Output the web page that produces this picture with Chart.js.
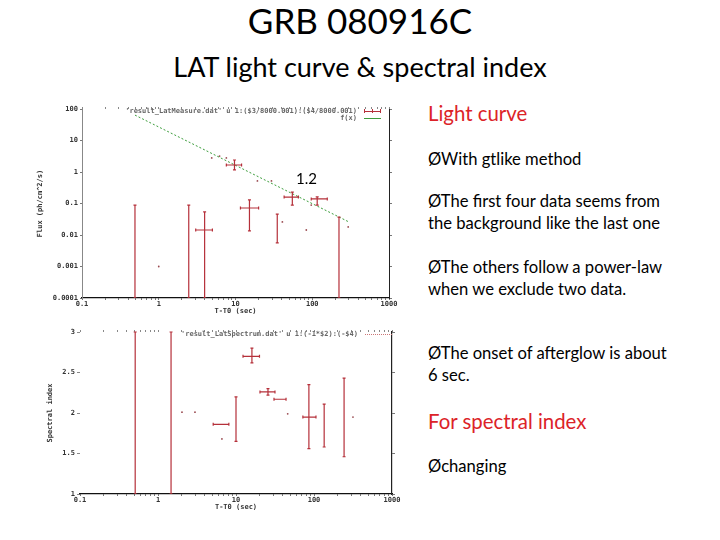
<!DOCTYPE html>
<html>
<head>
<meta charset="utf-8">
<script src="https://cdn.jsdelivr.net/npm/chart.js@4"></script>
<style>
  body { margin: 0; width: 720px; height: 540px; background: #fff; position: relative; overflow: hidden; font-family: Lato, "Open Sans", sans-serif; }
  .txt { position: absolute; white-space: nowrap; color: #000; }
  .bullet { font-size: 16.6px; line-height: 20px; left: 428px; }
  .red { color: #dc2328; font-size: 20.4px; line-height: 24px; left: 428px; }
  .wrap { position: absolute; left: 0; width: 410px; }
  .leg { position: absolute; font: bold 7px "DejaVu Sans Mono", monospace; color: #666; white-space: nowrap; text-align: right; line-height: 8px; }
  .sample { position: absolute; height: 0; }
</style>
</head>
<body>
<div class="txt" style="left:0;width:720px;text-align:center;top:-2px;font-size:35px;line-height:44px;">GRB 080916C</div>
<div class="txt" style="left:0;width:720px;text-align:center;top:51px;font-size:27px;line-height:32px;">LAT light curve &amp; spectral index</div>

<div class="txt red" style="top:101px;">Light curve</div>
<div class="txt bullet" style="top:149px;">ØWith gtlike method</div>
<div class="txt bullet" style="top:191px;">ØThe first four data seems from</div>
<div class="txt bullet" style="top:213px;">the background like the last one</div>
<div class="txt bullet" style="top:257px;">ØThe others follow a power-law</div>
<div class="txt bullet" style="top:279px;">when we exclude two data.</div>
<div class="txt bullet" style="top:343px;">ØThe onset of afterglow is about</div>
<div class="txt bullet" style="top:365px;">6 sec.</div>
<div class="txt red" style="top:409px;">For spectral index</div>
<div class="txt bullet" style="top:456px;">Øchanging</div>

<div class="wrap" style="top:95px;height:225px;"><canvas id="lcChart"></canvas></div>
<div class="wrap" style="top:320px;height:200px;"><canvas id="idxChart"></canvas></div>

<div class="txt" style="left:296px;top:168px;font-size:15px;line-height:20px;">1.2</div>

<div class="leg" style="left:120px;width:237px;top:107px;">'result_LatMeasure.dat' u 1:($3/8000.001):($4/8000.001)</div>
<div class="leg" style="left:120px;width:237px;top:114px;">f(x)</div>
<div class="sample" style="left:364px;width:17px;top:111px;border-top:1px solid #b5303a;"></div>
<div class="sample" style="left:364px;width:1px;height:4px;top:109px;background:#b5303a;"></div>
<div class="sample" style="left:372px;width:1px;height:4px;top:109px;background:#b5303a;"></div>
<div class="sample" style="left:380px;width:1px;height:4px;top:109px;background:#b5303a;"></div>
<div class="sample" style="left:364px;width:17px;top:118px;border-top:1px solid #3c9c3c;"></div>
<div class="leg" style="left:120px;width:238px;top:330px;">'result_LatSpectrum.dat' u 1:(-1*$2):(-$4)</div>
<div class="sample" style="left:365px;width:27px;top:334px;border-top:1px dotted #c77;"></div>

<script>
// ---- light curve (top panel) ----
const lcTime   = [0.49, 2.46, 3.96, 9.7, 15.2, 35, 55, 116, 223];
const lcTimeLo = [0.49, 2.46, 3.03, 7.6, 11.6, 35, 43, 97, 223];
const lcTimeHi = [0.49, 2.46, 5.0, 12.0, 20, 35, 66, 157, 223];
const lcFlux   = [0.003, 0.003, 0.0144, 1.67, 0.072, 0.017, 0.16, 0.14, 0.002];
const lcFluxLo = [0.0001, 0.0001, 0.0001, 1.16, 0.0135, 0.0056, 0.089, 0.089, 0.0001];
const lcFluxHi = [0.089, 0.089, 0.054, 2.4, 0.13, 0.046, 0.23, 0.163, 0.037];

// stray dots in the light curve panel
const lcDotTime = [1.0, 4.9, 6.2, 7.6, 19.3, 29.4, 40.8, 83.6, 97, 294];
const lcDotFlux = [0.001, 2.8, 3.2, 2.8, 0.52, 0.52, 0.026, 0.0144, 0.089, 0.018];

// power-law fit, end points
const fitTime = [0.49, 300];
const fitFlux = [64, 0.026];

// ---- spectral index (bottom panel) ----
const siTime   = [0.51, 1.47, 6.5, 10, 16, 25.7, 36.6, 86, 135, 243];
const siTimeLo = [0.51, 1.47, 5.1, 10, 12.3, 20.3, 30.7, 72, 135, 243];
const siTimeHi = [0.51, 1.47, 8.1, 10, 20, 31.6, 43.8, 106, 135, 243];
const siIndex   = [2, 2, 1.86, 1.92, 2.70, 2.26, 2.17, 1.95, 1.85, 1.95];
const siIndexLo = [1, 1, 1.86, 1.65, 2.62, 2.22, 2.17, 1.56, 1.58, 1.46];
const siIndexHi = [3, 3, 1.86, 2.20, 2.80, 2.30, 2.17, 2.35, 2.11, 2.43];

const siDotTime  = [2.03, 2.98, 6.6, 46, 316];
const siDotIndex = [2.01, 2.01, 1.68, 1.99, 1.95];

// ---- axes ----
const timeTicks  = [0.1, 1, 10, 100, 1000];
const timeLabels = ['0.1', '1', '10', '100', '1000'];
const fluxTicks  = [0.0001, 0.001, 0.01, 0.1, 1, 10, 100];
const fluxLabels = ['0.0001', '0.001', '0.01', '0.1', '1', '10', '100'];
const idxTicks  = [1, 1.5, 2, 2.5, 3];
const idxLabels = ['1', '1.5', '2', '2.5', '3'];

const barColor = '#b5303a';
const tickFont = { family: 'DejaVu Sans Mono', size: 7, weight: 'bold' };
const tickColor = '#333';

function zip(xs, ys, xlo, xhi, ylo, yhi) {
  return xs.map((x, i) => ({
    x: x, y: ys[i],
    xMin: xlo ? xlo[i] : x, xMax: xhi ? xhi[i] : x,
    yMin: ylo ? ylo[i] : ys[i], yMax: yhi ? yhi[i] : ys[i]
  }));
}

// minor ticks 2..9 within each decade
function withMinors(decades) {
  const out = [];
  decades.forEach((d, i) => {
    out.push(d);
    if (i < decades.length - 1) for (let k = 2; k < 10; k++) out.push(d * k);
  });
  return out;
}

// draws xy error bars with small caps, through the chart scales
const errorBars = {
  id: 'errorBars',
  afterDatasetsDraw(chart) {
    const { ctx, chartArea } = chart;
    const xs = chart.scales.x, ys = chart.scales.y;
    ctx.save();
    ctx.beginPath();
    ctx.rect(chartArea.left, chartArea.top - 1, chartArea.width, chartArea.height + 1);
    ctx.clip();
    chart.data.datasets.forEach(ds => {
      if (!ds.errorBars) return;
      ctx.strokeStyle = ds.borderColor;
      ctx.lineWidth = 1.2;
      ds.data.forEach(p => {
        const cx = xs.getPixelForValue(p.x), cy = ys.getPixelForValue(p.y);
        const x0 = xs.getPixelForValue(p.xMin), x1 = xs.getPixelForValue(p.xMax);
        const y0 = ys.getPixelForValue(p.yMin), y1 = ys.getPixelForValue(p.yMax);
        const cap = 1.5;
        ctx.beginPath();
        if (p.yMin !== p.yMax) {
          ctx.moveTo(cx, y0); ctx.lineTo(cx, y1);
          ctx.moveTo(cx - cap, y0); ctx.lineTo(cx + cap, y0);
          ctx.moveTo(cx - cap, y1); ctx.lineTo(cx + cap, y1);
        }
        if (p.xMin !== p.xMax) {
          ctx.moveTo(x0, cy); ctx.lineTo(x1, cy);
          ctx.moveTo(x0, cy - cap); ctx.lineTo(x0, cy + cap);
          ctx.moveTo(x1, cy - cap); ctx.lineTo(x1, cy + cap);
        }
        ctx.stroke();
      });
    });
    ctx.restore();
  }
};

function timeAxis(height, titlePad) {
  return {
    type: 'logarithmic', position: 'bottom', min: 0.1, max: 1000,
    afterBuildTicks: s => { s.ticks = withMinors(timeTicks).map(v => ({ value: v })); },
    afterFit: s => { s.height = height; },
    ticks: {
      autoSkip: false, maxRotation: 0, padding: 0, font: tickFont, color: tickColor,
      callback: v => { const i = timeTicks.indexOf(v); return i < 0 ? '' : timeLabels[i]; }
    },
    grid: { drawOnChartArea: false, tickLength: 2, color: '#777' },
    border: { display: true, color: '#111', width: 1.2 },
    title: { display: true, text: 'T-T0 (sec)', font: tickFont, color: tickColor, padding: { top: 0, bottom: titlePad } }
  };
}

function topAxis() {
  return {
    type: 'logarithmic', position: 'top', min: 0.1, max: 1000,
    afterBuildTicks: s => { s.ticks = withMinors(timeTicks).map(v => ({ value: v })); },
    afterFit: s => { s.height = 0; },
    ticks: { display: false },
    grid: { drawOnChartArea: false, tickLength: 2, color: '#888' },
    border: { display: false }
  };
}

function baseOptions(padding) {
  return {
    responsive: true, maintainAspectRatio: false, animation: false,
    layout: { padding: padding },
    plugins: { legend: { display: false }, tooltip: { enabled: false } }
  };
}

// ---- top: light curve ----
new Chart(document.getElementById('lcChart'), {
  type: 'scatter',
  data: {
    datasets: [
      { label: 'fit', type: 'line', data: zip(fitTime, fitFlux), borderColor: '#3c9c3c',
        borderWidth: 1, borderDash: [2, 2], pointRadius: 0, fill: false, xAxisID: 'x', yAxisID: 'y' },
      { label: 'flux', data: zip(lcTime, lcFlux, lcTimeLo, lcTimeHi, lcFluxLo, lcFluxHi),
        errorBars: true, borderColor: barColor, pointRadius: 0 },
      { label: 'dots', data: zip(lcDotTime, lcDotFlux), backgroundColor: '#9a4a50',
        borderWidth: 0, pointRadius: 0.9 }
    ]
  },
  options: Object.assign(baseOptions({ left: 0, right: 21, top: 14, bottom: 0 }), {
    scales: {
      x: timeAxis(22, 5),
      x2: topAxis(),
      y: {
        type: 'logarithmic', position: 'left', min: 0.0001, max: 100,
        afterBuildTicks: s => { s.ticks = fluxTicks.map(v => ({ value: v })); },
        afterFit: s => { s.width = 82; },
        ticks: {
          autoSkip: false, padding: 2, font: tickFont, color: tickColor,
          callback: v => { const i = fluxTicks.indexOf(v); return i < 0 ? '' : fluxLabels[i]; }
        },
        grid: { drawOnChartArea: false, tickLength: 2, color: '#777' },
        border: { display: true, color: '#888', width: 1 },
        title: { display: true, text: 'Flux (ph/cm^2/s)', font: tickFont, color: tickColor, padding: { top: 36, bottom: 0 } }
      },
      y2: {
        type: 'logarithmic', position: 'right', min: 0.0001, max: 100,
        afterBuildTicks: s => { s.ticks = fluxTicks.map(v => ({ value: v })); },
        afterFit: s => { s.width = 0; },
        ticks: { display: false },
        grid: { drawOnChartArea: false, tickLength: 3, color: '#777' },
        border: { display: true, color: '#222', width: 1 }
      }
    }
  }),
  plugins: [errorBars]
});

// ---- bottom: spectral index ----
new Chart(document.getElementById('idxChart'), {
  type: 'scatter',
  data: {
    datasets: [
      { label: 'index', data: zip(siTime, siIndex, siTimeLo, siTimeHi, siIndexLo, siIndexHi),
        errorBars: true, borderColor: barColor, pointRadius: 0 },
      { label: 'dots', data: zip(siDotTime, siDotIndex), backgroundColor: '#9a4a50',
        borderWidth: 0, pointRadius: 0.9 }
    ]
  },
  options: Object.assign(baseOptions({ left: 0, right: 18, top: 12, bottom: 0 }), {
    scales: {
      x: timeAxis(26, 9),
      x2: topAxis(),
      y: {
        type: 'linear', position: 'left', min: 1, max: 3,
        afterBuildTicks: s => { s.ticks = idxTicks.map(v => ({ value: v })); },
        afterFit: s => { s.width = 80; },
        ticks: {
          autoSkip: false, padding: 2, font: tickFont, color: tickColor,
          callback: v => { const i = idxTicks.indexOf(v); return i < 0 ? '' : idxLabels[i]; }
        },
        grid: { drawOnChartArea: false, tickLength: 3, color: '#888' },
        border: { display: false },
        title: { display: true, text: 'Spectral index', font: tickFont, color: tickColor, padding: { top: 46, bottom: 0 } }
      },
      y2: {
        type: 'linear', position: 'right', min: 1, max: 3,
        afterBuildTicks: s => { s.ticks = idxTicks.map(v => ({ value: v })); },
        afterFit: s => { s.width = 0; },
        ticks: { display: false },
        grid: { drawOnChartArea: false, tickLength: 3, color: '#777' },
        border: { display: true, color: '#222', width: 1.2 }
      }
    }
  }),
  plugins: [errorBars]
});
</script>
</body>
</html>
